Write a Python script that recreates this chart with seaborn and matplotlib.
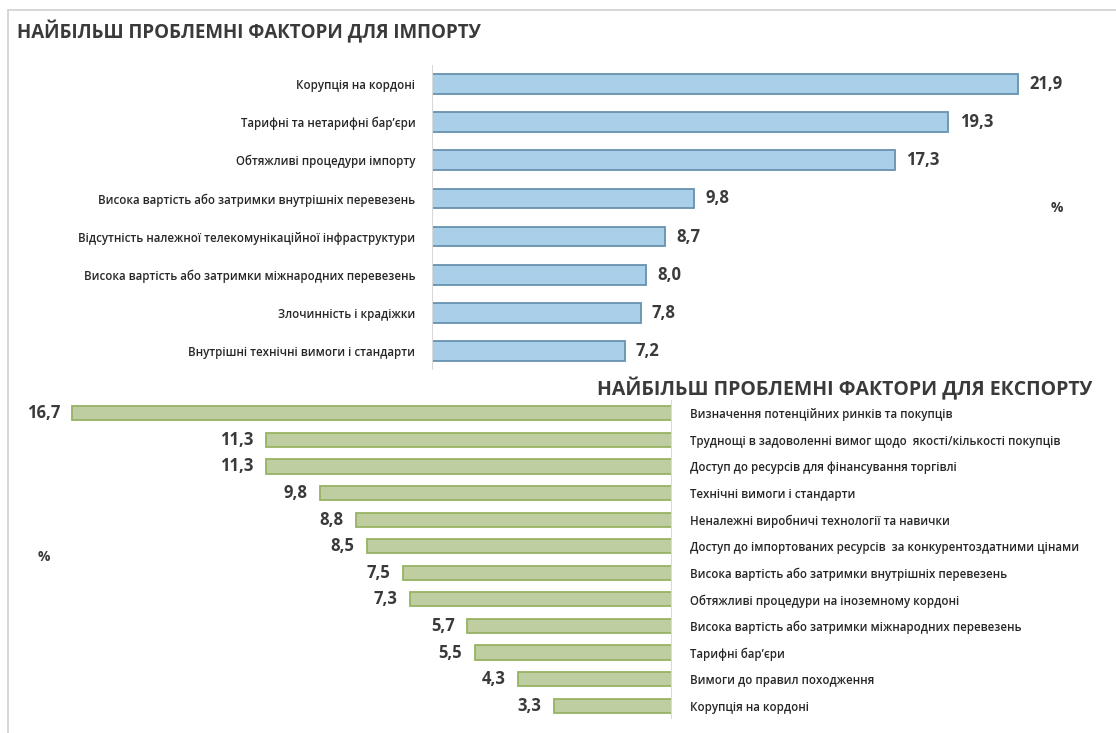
"""
two horizontal bar charts: most problematic factors for import / export
"""

import matplotlib
matplotlib.use("Agg")
import seaborn as sns
from matplotlib import pyplot as plt
from matplotlib.lines import Line2D

# data
import_factors = [
    "Корупція на кордоні",
    "Тарифні та нетарифні бар’єри",
    "Обтяжливі процедури імпорту",
    "Висока вартість або затримки внутрішніх перевезень",
    "Відсутність належної телекомунікаційної інфраструктури",
    "Висока вартість або затримки міжнародних перевезень",
    "Злочинність і крадіжки",
    "Внутрішні технічні вимоги і стандарти",
]
import_values = [21.9, 19.3, 17.3, 9.8, 8.7, 8.0, 7.8, 7.2]

export_factors = [
    "Визначення потенційних ринків та покупців",
    "Труднощі в задоволенні вимог щодо  якості/кількості покупців",
    "Доступ до ресурсів для фінансування торгівлі",
    "Технічні вимоги і стандарти",
    "Неналежні виробничі технології та навички",
    "Доступ до імпортованих ресурсів  за конкурентоздатними цінами",
    "Висока вартість або затримки внутрішніх перевезень",
    "Обтяжливі процедури на іноземному кордоні",
    "Висока вартість або затримки міжнародних перевезень",
    "Тарифні бар’єри",
    "Вимоги до правил походження",
    "Корупція на кордоні",
]
export_values = [16.7, 11.3, 11.3, 9.8, 8.8, 8.5, 7.5, 7.3, 5.7, 5.5, 4.3, 3.3]

import_title = "НАЙБІЛЬШ ПРОБЛЕМНІ ФАКТОРИ ДЛЯ ІМПОРТУ"
export_title = "НАЙБІЛЬШ ПРОБЛЕМНІ ФАКТОРИ ДЛЯ ЕКСПОРТУ"

sns.set_style("white")
plt.rcParams["font.family"] = ["Open Sans", "DejaVu Sans"]

W, H = 1116, 733
TEXT = "#3a3a3a"


def px_axes(fig, left, top, right, bottom):
    """add axes from pixel box"""
    return fig.add_axes([left / W, 1 - bottom / H, (right - left) / W, (bottom - top) / H])


def comma(v):
    return f"{v:.1f}".replace(".", ",")


def style_axes(ax):
    sns.despine(ax=ax, left=True, right=True, top=True, bottom=True)
    ax.set_xticks([])
    ax.set_xlabel("")
    ax.set_ylabel("")
    ax.tick_params(axis="y", length=0)


def main():
    fig = plt.figure(figsize=(W / 100, H / 100), dpi=100)

    # frame lines of the screenshot
    fig.add_artist(Line2D([8 / W, 1], [1 - 10 / H, 1 - 10 / H], color="#d0d0d0", lw=1.2))
    fig.add_artist(Line2D([8 / W, 8 / W], [1 - 10 / H, 0], color="#d0d0d0", lw=1.2))

    # import chart
    ax1 = px_axes(fig, 432, 65, 432 + 25 * 26.76, 370)
    sns.barplot(x=import_values, y=import_factors, orient="h", ax=ax1,
                color="#9fd1f3", edgecolor="#6792b0", linewidth=1.3, width=0.52)
    ax1.set_xlim(0, 25)
    ax1.set_ylim(7.5, -0.5)
    style_axes(ax1)
    ax1.axvline(0, color="#d9d9d9", lw=1.5)
    ax1.tick_params(axis="y", pad=12)
    for lab in ax1.get_yticklabels():
        lab.set_fontsize(8.3)
        lab.set_color("#262626")
        lab.set_fontweight("semibold")
    ax1.bar_label(ax1.containers[0], labels=[comma(v) for v in import_values],
                  padding=8, fontsize=12, fontweight="bold", color=TEXT)

    # export chart (bars grow to the left)
    ax2 = px_axes(fig, 672 - 18 * 35.9, 400, 672, 719)
    sns.barplot(x=export_values, y=export_factors, orient="h", ax=ax2,
                color="#c1d699", edgecolor="#97b363", linewidth=1.3, width=0.53)
    ax2.set_xlim(18, 0)
    ax2.set_ylim(11.5, -0.5)
    style_axes(ax2)
    ax2.axvline(0, color="#d9d9d9", lw=1.5)
    ax2.yaxis.tick_right()
    ax2.tick_params(axis="y", pad=13)
    for lab in ax2.get_yticklabels():
        lab.set_fontsize(8.3)
        lab.set_color("#262626")
        lab.set_fontweight("semibold")
    ax2.bar_label(ax2.containers[0], labels=[comma(v) for v in export_values],
                  padding=9, fontsize=12, fontweight="bold", color=TEXT)

    # titles and unit marks
    fig.text(17 / W, 1 - 32 / H, import_title, fontsize=13.5, fontweight="bold",
             color=TEXT, va="center", ha="left")
    fig.text(597 / W, 1 - 389 / H, export_title, fontsize=14, fontweight="bold",
             color=TEXT, va="center", ha="left")
    fig.text(1057 / W, 1 - 208 / H, "%", fontsize=10, fontweight="bold",
             color=TEXT, va="center", ha="center")
    fig.text(44 / W, 1 - 557 / H, "%", fontsize=10, fontweight="bold",
             color=TEXT, va="center", ha="center")

    plt.savefig("out.png", dpi=100)


if __name__ == "__main__":
    main()
